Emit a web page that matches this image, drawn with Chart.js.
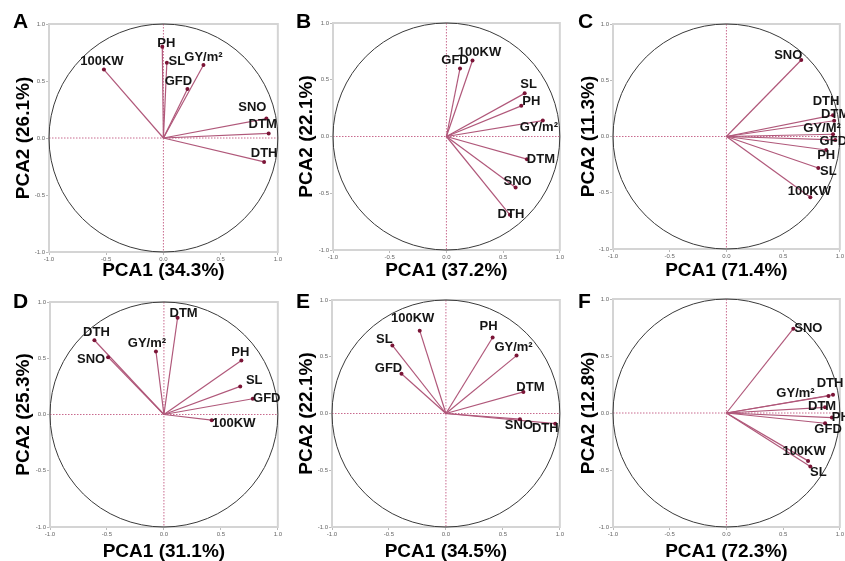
<!DOCTYPE html>
<html>
<head>
<meta charset="utf-8">
<script src="https://cdn.jsdelivr.net/npm/chart.js@4"></script>
<style>
  body { margin: 0; background: #fff; }
  #wrap { position: relative; width: 845px; height: 561px; overflow: hidden; }
  canvas { position: absolute; }
</style>
</head>
<body>
<div id="wrap"></div>
<script>
// trait names (same order in every panel)
var traits = ['PH', 'SL', 'GY/m²', 'GFD', '100KW', 'SNO', 'DTM', 'DTH'];
var traitsC = ['PH', 'SL', 'GY/M²', 'GFD', '100KW', 'SNO', 'DTM', 'DTH'];
var panelLetters = ['A', 'B', 'C', 'D', 'E', 'F'];
var pca1Share = ['34.3%', '37.2%', '71.4%', '31.1%', '34.5%', '72.3%'];
var pca2Share = ['26.1%', '22.1%', '11.3%', '25.3%', '22.1%', '12.8%'];
var axisTicks = [-1, -0.5, 0, 0.5, 1];

// loadings, PCA1 / PCA2
var pc1A = [-0.01, 0.03, 0.35, 0.21, -0.52, 0.90, 0.92, 0.88];
var pc2A = [0.80, 0.66, 0.64, 0.43, 0.60, 0.17, 0.04, -0.21];
var pc1B = [0.66, 0.69, 0.85, 0.12, 0.23, 0.61, 0.71, 0.56];
var pc2B = [0.27, 0.38, 0.14, 0.60, 0.67, -0.45, -0.20, -0.69];
var pc1C = [0.88, 0.81, 0.94, 0.96, 0.74, 0.66, 0.95, 0.94];
var pc2C = [-0.12, -0.28, 0.02, -0.03, -0.54, 0.68, 0.14, 0.19];
var pc1D = [0.68, 0.67, -0.07, 0.78, 0.42, -0.49, 0.12, -0.61];
var pc2D = [0.48, 0.25, 0.56, 0.14, -0.05, 0.51, 0.86, 0.66];
var pc1E = [0.41, -0.47, 0.62, -0.39, -0.23, 0.65, 0.68, 0.96];
var pc2E = [0.67, 0.60, 0.51, 0.35, 0.73, -0.05, 0.19, -0.09];
var pc1F = [0.93, 0.74, 0.90, 0.87, 0.72, 0.59, 0.87, 0.94];
var pc2F = [-0.04, -0.47, 0.15, -0.09, -0.42, 0.74, 0.05, 0.16];

// label nudges in px (layout only)
var labelOff = [
  [[4,-3],[10,-1],[0,-8],[-9,-8],[-2,-8],[-14,-11],[-6,-9],[0,-9]],
  [[10,-4],[4,-9],[-4,7],[-5,-8],[7,-8],[2,-6],[14,0],[1,0]],
  [[0,5],[10,3],[-11,-6],[-2,2],[-1,-6],[-13,-5],[1,-6],[-7,-14]],
  [[-1,-8],[14,-6],[-9,-8],[14,0],[22,3],[-17,2],[6,-4],[2,-8]],
  [[-4,-11],[-8,-6],[-3,-8],[-13,-5],[-7,-12],[-1,6],[7,-5],[-10,5]],
  [[9,0],[8,6],[-33,-2],[3,6],[-4,-9],[15,0],[-3,-1],[-3,-11]]
];

// canvas box and plot box for each panel
var boxes = [
  { cx: 0,   cy: 0,   cw: 283, ch: 280, l: 49,  t: 24,  r: 279, b: 252 },
  { cx: 283, cy: 0,   cw: 282, ch: 280, l: 333, t: 23,  r: 561, b: 250 },
  { cx: 565, cy: 0,   cw: 280, ch: 280, l: 613, t: 24,  r: 840, b: 249 },
  { cx: 0,   cy: 280, cw: 283, ch: 281, l: 50,  t: 302, r: 280, b: 527 },
  { cx: 283, cy: 280, cw: 282, ch: 281, l: 332, t: 300, r: 560, b: 527 },
  { cx: 565, cy: 280, cw: 280, ch: 281, l: 613, t: 299, r: 841, b: 527 }
];

var pc1 = [pc1A, pc1B, pc1C, pc1D, pc1E, pc1F];
var pc2 = [pc2A, pc2B, pc2C, pc2D, pc2E, pc2F];

var lineColor = '#b0587a';
var dotColor = '#7a1436';

// circle, zero lines, frame, labels, panel letter
var biplotPlugin = {
  id: 'biplot',
  beforeDatasetsDraw: function(chart) {
    var ctx = chart.ctx, a = chart.chartArea;
    var xs = chart.scales.x, ys = chart.scales.y;
    var x0 = xs.getPixelForValue(0), y0 = ys.getPixelForValue(0);
    ctx.save();
    ctx.strokeStyle = '#d4d4d4';
    ctx.lineWidth = 2;
    ctx.strokeRect(a.left, a.top, a.right - a.left, a.bottom - a.top);
    ctx.strokeStyle = '#c86a8e';
    ctx.lineWidth = 1;
    ctx.setLineDash([1.5, 1.5]);
    ctx.beginPath();
    ctx.moveTo(xs.getPixelForValue(-1), y0); ctx.lineTo(xs.getPixelForValue(1), y0);
    ctx.moveTo(x0, ys.getPixelForValue(1)); ctx.lineTo(x0, ys.getPixelForValue(-1));
    ctx.stroke();
    ctx.setLineDash([]);
    ctx.strokeStyle = '#3a3a3a';
    ctx.lineWidth = 1;
    ctx.beginPath();
    ctx.ellipse(x0, y0, xs.getPixelForValue(1) - x0, y0 - ys.getPixelForValue(1), 0, 0, Math.PI * 2);
    ctx.stroke();
    ctx.restore();
  },
  afterDatasetsDraw: function(chart) {
    var ctx = chart.ctx, o = chart.options.plugins.biplot;
    var xs = chart.scales.x, ys = chart.scales.y;
    ctx.save();
    ctx.fillStyle = '#151515';
    ctx.font = 'bold 13px "Liberation Sans", Arial, sans-serif';
    ctx.textAlign = 'center';
    ctx.textBaseline = 'middle';
    for (var i = 0; i < o.names.length; i++) {
      var px = xs.getPixelForValue(o.xv[i]) + o.off[i][0];
      var py = ys.getPixelForValue(o.yv[i]) + o.off[i][1];
      ctx.fillText(o.names[i], px, py);
    }
    ctx.font = 'bold 21px "Liberation Sans", Arial, sans-serif';
    ctx.textAlign = 'left';
    ctx.textBaseline = 'alphabetic';
    ctx.fillStyle = '#000';
    ctx.fillText(o.letter, 13, 28);
    ctx.restore();
  }
};

var wrap = document.getElementById('wrap');

for (var p = 0; p < 6; p++) {
  var bx = boxes[p];
  var canvas = document.createElement('canvas');
  canvas.width = bx.cw;
  canvas.height = bx.ch;
  canvas.style.left = bx.cx + 'px';
  canvas.style.top = bx.cy + 'px';
  wrap.appendChild(canvas);

  var names = p === 2 ? traitsC : traits;
  var datasets = [];
  for (var i = 0; i < names.length; i++) {
    datasets.push({
      label: names[i],
      data: [{ x: 0, y: 0 }, { x: pc1[p][i], y: pc2[p][i] }],
      showLine: true,
      borderColor: lineColor,
      borderWidth: 1.2,
      pointRadius: [0, 2],
      pointBackgroundColor: dotColor,
      pointBorderColor: dotColor,
      pointBorderWidth: 0
    });
  }

  (function(bx) {
    new Chart(canvas.getContext('2d'), {
      type: 'scatter',
      data: { datasets: datasets },
      plugins: [biplotPlugin],
      options: {
        responsive: false,
        animation: false,
        layout: { padding: { left: 0, bottom: 0, top: bx.t - bx.cy, right: bx.cx + bx.cw - bx.r } },
        plugins: {
          legend: { display: false },
          tooltip: { enabled: false },
          biplot: { names: names, xv: pc1[p], yv: pc2[p], off: labelOff[p], letter: panelLetters[p] }
        },
        scales: {
          x: {
            type: 'linear', min: -1, max: 1,
            afterBuildTicks: function(s) { s.ticks = axisTicks.map(function(v) { return { value: v }; }); },
            afterFit: function(s) { s.height = bx.cy + bx.ch - bx.b; },
            ticks: { font: { size: 6 }, color: '#666', padding: 1, maxRotation: 0, callback: function(v) { return v.toFixed(1); } },
            grid: { drawOnChartArea: false, tickLength: 3, color: '#bbb' },
            border: { display: false },
            title: { display: true, text: 'PCA1 (' + pca1Share[p] + ')', color: '#000',
              font: { size: 19, weight: 'bold', family: '"Liberation Sans", Arial, sans-serif', lineHeight: 1 },
              padding: { top: 0, bottom: 0 } }
          },
          y: {
            type: 'linear', min: -1, max: 1,
            afterBuildTicks: function(s) { s.ticks = axisTicks.map(function(v) { return { value: v }; }); },
            afterFit: function(s) { s.width = bx.l - bx.cx; },
            ticks: { font: { size: 6 }, color: '#666', padding: 1, callback: function(v) { return v.toFixed(1); } },
            grid: { drawOnChartArea: false, tickLength: 3, color: '#bbb' },
            border: { display: false },
            title: { display: true, text: 'PCA2 (' + pca2Share[p] + ')', color: '#000',
              font: { size: 19, weight: 'bold', family: '"Liberation Sans", Arial, sans-serif', lineHeight: 1 },
              padding: { top: 14, bottom: 0 } }
          }
        }
      }
    });
  })(bx);
}
</script>
</body>
</html>
